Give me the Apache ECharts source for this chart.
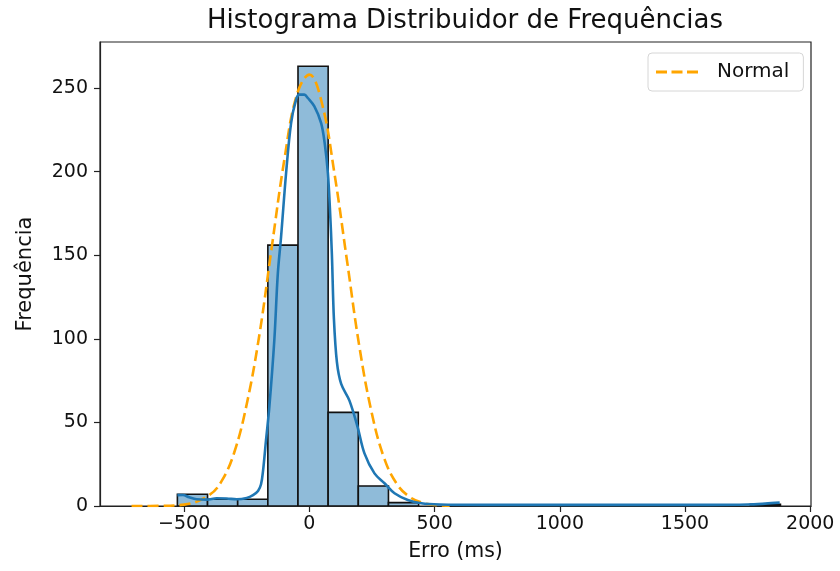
<!DOCTYPE html>
<html>
<head>
<meta charset="utf-8">
<script src="https://cdn.jsdelivr.net/npm/echarts@6/dist/echarts.min.js"></script>
<style>
  html, body { margin: 0; padding: 0; background: #fff; }
  #chart { width: 840px; height: 571px; }
</style>
</head>
<body>
<div id="chart"></div>
<script>
// histogram bins (edges in ms) and counts
const binEdges = [-527, -406.6, -286.2, -165.8, -45.4, 75, 195.4, 315.8, 436.2, 556.6, 677,
  797.4, 917.8, 1038.2, 1158.6, 1279, 1399.4, 1519.8, 1640.2, 1760.6, 1881];
const binCounts = [7, 4, 4, 156, 263, 56, 12, 2, 0, 0, 0, 0, 0, 0, 0, 0, 0, 0, 0, 1];

// kde curve
const kdeX = [-527, -505, -480, -450, -410, -370, -330, -290, -250, -225, -205, -193, -185,
  -173, -160, -140, -126, -113, -93, -73, -53, -40, -20, -6, 20, 47, 62, 74, 82, 90, 98, 110,
  127, 160, 193, 220, 260, 300, 340, 393, 447, 520, 700, 1000, 1300, 1600, 1750, 1820, 1878];
const kdeY = [6.5, 6.6, 5.2, 4, 3.8, 4.6, 4.5, 4, 4.8, 6.5, 9, 13, 21,
  39.5, 59, 99, 139, 161, 199, 229, 243, 246, 246, 244, 239, 229, 216, 199, 178, 150, 112, 86,
  73, 63, 47, 31.5, 19.5, 13.6, 7.6, 3.6, 1.6, 0.9, 0.7, 0.7, 0.7, 0.7, 0.9, 1.4, 2];

// "Normal" dashed curve
const normX = [-710, -600, -500, -400, -350, -300, -250, -200, -150, -100, -50, 0, 50, 100,
  150, 200, 250, 300, 350, 400, 450, 500, 560];
const normY = [0, 0.1, 0.8, 6.5, 15, 32, 61, 102, 155, 207, 246, 258, 241, 199,
  147, 95, 55, 28, 13, 5.5, 2, 0.6, 0.2];

const xTicks = [-500, 0, 500, 1000, 1500, 2000];
const yTicks = [0, 50, 100, 150, 200, 250];

const font = 'DejaVu Sans';
const chart = echarts.init(document.getElementById('chart'));

const bars = binCounts
  .map((c, i) => [binEdges[i], binEdges[i + 1], c])
  .filter(d => d[2] > 0);

chart.setOption({
  animation: false,
  backgroundColor: '#fff',
  textStyle: { fontFamily: font },
  title: {
    text: 'Histograma Distribuidor de Frequências',
    left: 460, top: 3, textAlign: 'center',
    textStyle: { fontFamily: font, fontSize: 26, fontWeight: 'normal', color: '#111' }
  },
  legend: {
    data: ['Normal'],
    left: 648, top: 53,
    padding: [9, 14, 9, 8],
    borderColor: '#d6d6d6', borderWidth: 1, borderRadius: 4,
    itemWidth: 42, itemHeight: 3,
    icon: 'path://M0,0h11v3h-11z M15.5,0h11v3h-11z M31,0h11v3h-11z',
    itemStyle: { color: '#ffa500' },
    textStyle: { fontFamily: font, fontSize: 20, color: '#111', padding: [0, 0, 0, 14] }
  },
  grid: {
    left: 100, right: 29, top: 42, bottom: 65,
    show: true, borderColor: '#222', borderWidth: 1.2, backgroundColor: 'transparent'
  },
  xAxis: {
    type: 'value', min: -836, max: 2003,
    name: 'Erro (ms)', nameLocation: 'middle', nameGap: 35,
    nameTextStyle: { fontFamily: font, fontSize: 20.5, color: '#111' },
    splitLine: { show: false },
    axisLine: { onZero: false, lineStyle: { color: '#222', width: 1.2 } },
    axisTick: { customValues: xTicks, length: 6, lineStyle: { color: '#222', width: 1.2 } },
    axisLabel: {
      customValues: xTicks, margin: 9,
      fontFamily: font, fontSize: 19, color: '#111',
      formatter: v => String(v).replace('-', '\u2212')
    }
  },
  yAxis: {
    type: 'value', min: 0, max: 277.5,
    name: 'Frequência', nameLocation: 'middle', nameGap: 64,
    nameTextStyle: { fontFamily: font, fontSize: 21, color: '#111' },
    splitLine: { show: false },
    axisLine: { show: true, onZero: false, lineStyle: { color: '#222', width: 1.2 } },
    axisTick: { show: true, customValues: yTicks, length: 6, lineStyle: { color: '#222', width: 1.2 } },
    axisLabel: { customValues: yTicks, margin: 12, fontFamily: font, fontSize: 19, color: '#111' }
  },
  series: [
    {
      name: 'hist',
      type: 'custom',
      data: bars,
      encode: { x: [0, 1], y: 2 },
      clip: true,
      renderItem: function (params, api) {
        const p0 = api.coord([api.value(0), api.value(2)]);
        const p1 = api.coord([api.value(1), 0]);
        return {
          type: 'rect',
          shape: { x: p0[0], y: p0[1], width: p1[0] - p0[0], height: p1[1] - p0[1] },
          style: { fill: '#8fbbd9', stroke: '#111', lineWidth: 1.6 }
        };
      }
    },
    {
      name: 'Normal',
      type: 'line',
      data: normX.map((x, i) => [x, normY[i]]),
      smooth: 0.4,
      showSymbol: false,
      itemStyle: { color: '#ffa500' },
      lineStyle: { color: '#ffa500', width: 2.6, type: [11, 5] },
      z: 3
    },
    {
      name: 'kde',
      type: 'line',
      data: kdeX.map((x, i) => [x, kdeY[i]]),
      smooth: 0.35,
      showSymbol: false,
      lineStyle: { color: '#1f77b4', width: 2.6 },
      z: 4
    }
  ]
});
</script>
</body>
</html>
